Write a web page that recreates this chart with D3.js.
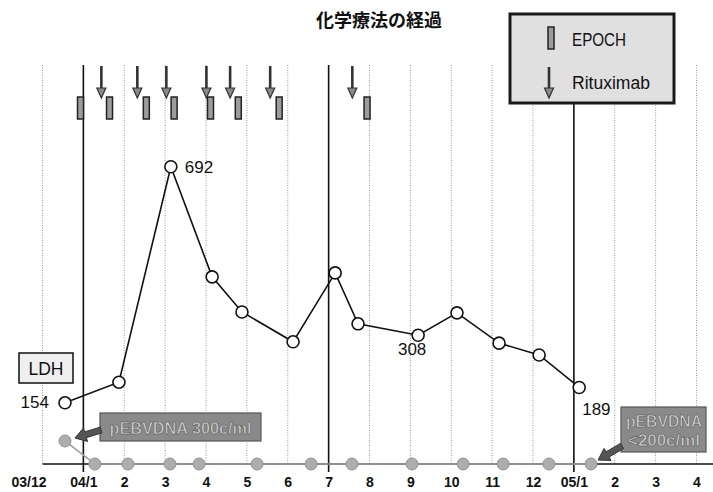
<!DOCTYPE html>
<html><head><meta charset="utf-8">
<script src="https://cdn.jsdelivr.net/npm/d3@7"></script>
<style>
html,body{margin:0;padding:0;background:#fff;}
svg{display:block;font-family:"Liberation Sans",Arial,sans-serif;}
</style></head>
<body>
<svg id="chart" width="713" height="492"></svg>
<script>
// ---- data ----
const title = "化学療法の経過";
const tickLabels = ["03/12","04/1","2","3","4","5","6","7","8","9","10","11","12","05/1","2","3","4"];
const solidTicks = [1, 7, 13];
const ldhWeeks  = [0.55, 1.87, 3.14, 4.15, 4.88, 6.13, 7.16, 7.72, 9.19, 10.14, 11.17, 12.15, 13.13];
const ldhValues = [154, 201, 692, 441, 361, 293, 450, 334, 308, 359, 290, 263, 189];
const ldhLabelled = [0, 2, 8, 12];
const ebvWeeks  = [0.55, 1.28, 2.09, 3.12, 3.83, 5.25, 6.57, 7.57, 9.04, 10.29, 11.27, 12.39, 13.42];
const ebvValues = [300, 0, 0, 0, 0, 0, 0, 0, 0, 0, 0, 0, 0];
const epochWeeks = [0.93, 1.64, 2.54, 3.22, 4.11, 4.79, 5.79, 7.94];
const rituxWeeks = [1.44, 2.32, 3.03, 4.01, 4.59, 5.57, 7.58];
const legendItems = ["EPOCH", "Rituximab"];
const ldhName = "LDH";
const ebvNotes = ["pEBVDNA 300c/ml", ["pEBVDNA", "<200c/ml"]];

// ---- layout ----
const svg = d3.select("#chart");
const W = 713, axisY = 464, gridTop = 65;
const x = d3.scaleLinear().domain([0, 16]).range([42.5, 696.5]);
const yL = d3.scaleLinear().domain([0, 700]).range([470.4, 163.2]);
const yE = d3.scaleLinear().domain([0, 300]).range([axisY, 441]);

// grid lines
svg.append("g").selectAll("line").data(d3.range(tickLabels.length).filter(i => !solidTicks.includes(i)))
  .join("line")
  .attr("x1", d => x(d)).attr("x2", d => x(d))
  .attr("y1", gridTop).attr("y2", axisY)
  .attr("stroke", "#9a9a9a").attr("stroke-width", 1).attr("stroke-dasharray", "1,1.5");
svg.append("g").selectAll("line").data(solidTicks).join("line")
  .attr("x1", d => x(d)).attr("x2", d => x(d))
  .attr("y1", gridTop).attr("y2", axisY + 8)
  .attr("stroke", "#111").attr("stroke-width", 1.6);

// x axis
const axis = d3.axisBottom(x).tickValues(d3.range(tickLabels.length))
  .tickFormat(i => tickLabels[i]).tickSize(0).tickPadding(13);
const gAx = svg.append("g").attr("transform", `translate(0,${axisY})`).call(axis);
gAx.select(".domain").remove();
gAx.selectAll("text").attr("font-family", "'Liberation Sans',Arial,sans-serif")
  .attr("font-size", 14).attr("font-weight", "bold").attr("fill", "#111")
  .attr("dx", (d) => d === 0 ? -14 : 0);
svg.append("line").attr("x1", x(0)).attr("x2", W).attr("y1", axisY).attr("y2", axisY)
  .attr("stroke", "#111").attr("stroke-width", 1.5);

// pEBV series
svg.append("path").datum(ebvWeeks.map((w, i) => [w, ebvValues[i]]))
  .attr("d", d3.line().x(d => x(d[0])).y(d => yE(d[1])))
  .attr("fill", "none").attr("stroke", "#a5a5a5").attr("stroke-width", 1.6);
svg.append("g").selectAll("circle").data(ebvWeeks).join("circle")
  .attr("cx", d => x(d)).attr("cy", (d, i) => yE(ebvValues[i])).attr("r", 6)
  .attr("fill", "#adadad").attr("stroke", "#939393").attr("stroke-width", 1);

// LDH series
svg.append("path").datum(ldhWeeks.map((w, i) => [w, ldhValues[i]]))
  .attr("d", d3.line().x(d => x(d[0])).y(d => yL(d[1])))
  .attr("fill", "none").attr("stroke", "#111").attr("stroke-width", 1.6);
svg.append("g").selectAll("circle").data(ldhWeeks).join("circle")
  .attr("cx", d => x(d)).attr("cy", (d, i) => yL(ldhValues[i])).attr("r", 6)
  .attr("fill", "#fff").attr("stroke", "#111").attr("stroke-width", 1.6);

// value labels
const labelOffsets = {0: [-16, 5, "end"], 2: [14, 6, "start"], 8: [-6, 20, "middle"], 12: [3, 28, "start"]};
svg.append("g").selectAll("text").data(ldhLabelled).join("text")
  .attr("x", i => x(ldhWeeks[i]) + labelOffsets[i][0])
  .attr("y", i => yL(ldhValues[i]) + labelOffsets[i][1])
  .attr("text-anchor", i => labelOffsets[i][2])
  .attr("font-size", 17).attr("fill", "#111")
  .text(i => ldhValues[i]);

// LDH label box
svg.append("rect").attr("x", 19).attr("y", 353).attr("width", 54).attr("height", 30)
  .attr("fill", "#efefef").attr("stroke", "#111").attr("stroke-width", 1.5);
svg.append("text").attr("x", 46).attr("y", 375).attr("text-anchor", "middle")
  .attr("font-size", 17.5).attr("fill", "#111").text(ldhName);

// treatment marks
function epochBar(g, cx, y0) {
  g.append("rect").attr("x", cx - 3).attr("y", y0).attr("width", 6).attr("height", 22)
    .attr("fill", "#9c9c9c").attr("stroke", "#222").attr("stroke-width", 1.5);
}
function rituxArrow(g, cx, y0, y1) {
  g.append("line").attr("x1", cx).attr("x2", cx).attr("y1", y0).attr("y2", y1 - 9)
    .attr("stroke", "#333").attr("stroke-width", 2.6);
  g.append("path").attr("d", `M${cx - 4.5},${y1 - 10}L${cx + 4.5},${y1 - 10}L${cx},${y1}Z`)
    .attr("fill", "#8a8a8a").attr("stroke", "#333").attr("stroke-width", 1.2);
}
const gT = svg.append("g");
epochWeeks.forEach(w => epochBar(gT, x(w), 97));
rituxWeeks.forEach(w => rituxArrow(gT, x(w), 66, 98));

// legend
const gL = svg.append("g");
gL.append("rect").attr("x", 510).attr("y", 14).attr("width", 164).attr("height", 89)
  .attr("fill", "#e0e0e0").attr("stroke", "#1a1a1a").attr("stroke-width", 3);
epochBar(gL, 551, 27);
rituxArrow(gL, 549, 67, 98);
gL.append("text").attr("x", 572).attr("y", 46).attr("font-size", 17.5).attr("fill", "#111")
  .attr("textLength", 54).attr("lengthAdjust", "spacingAndGlyphs").text(legendItems[0]);
gL.append("text").attr("x", 572).attr("y", 89).attr("font-size", 17.5).attr("fill", "#111")
  .attr("textLength", 78).attr("lengthAdjust", "spacingAndGlyphs").text(legendItems[1]);

// title
svg.append("text").attr("x", 379).attr("y", 27).attr("text-anchor", "middle")
  .attr("font-family", "'Noto Sans CJK JP',sans-serif").attr("font-weight", "bold")
  .attr("font-size", 18).attr("fill", "#111").text(title);

// pEBV note boxes with block arrows
function blockArrow(g, sx, sy, tx, ty) {
  const dx = tx - sx, dy = ty - sy, L = Math.hypot(dx, dy);
  const ux = dx / L, uy = dy / L, nx = -uy, ny = ux;
  const hl = 11, hw = 7, sw = 3;
  const bx = tx - ux * hl, by = ty - uy * hl;
  const pts = [
    [sx + nx * sw, sy + ny * sw], [bx + nx * sw, by + ny * sw], [bx + nx * hw, by + ny * hw],
    [tx, ty], [bx - nx * hw, by - ny * hw], [bx - nx * sw, by - ny * sw], [sx - nx * sw, sy - ny * sw]
  ];
  g.append("path").attr("d", "M" + pts.map(p => p.join(",")).join("L") + "Z")
    .attr("fill", "#555").attr("stroke", "#333").attr("stroke-width", 1);
}
const gN = svg.append("g");
gN.append("rect").attr("x", 100).attr("y", 413).attr("width", 161).attr("height", 28)
  .attr("fill", "#8a8a8a").attr("stroke", "#555").attr("stroke-width", 1.2);
gN.append("text").attr("x", 180.5).attr("y", 434).attr("text-anchor", "middle")
  .attr("font-size", 16).attr("font-weight", "bold").attr("fill", "#cfcfcf")
  .attr("stroke", "#4a4a4a").attr("stroke-width", 0.5)
  .attr("textLength", 142).attr("lengthAdjust", "spacingAndGlyphs")
  .text(ebvNotes[0]);
blockArrow(gN, 101, 430, x(ebvWeeks[0]) + 10, 438);

gN.append("rect").attr("x", 621).attr("y", 407).attr("width", 85).attr("height", 45)
  .attr("fill", "#8a8a8a").attr("stroke", "#555").attr("stroke-width", 1.2);
ebvNotes[1].forEach((t, k) => {
  gN.append("text").attr("x", 664).attr("y", 427 + k * 19).attr("text-anchor", "middle")
    .attr("font-size", 16).attr("font-weight", "bold").attr("fill", "#cfcfcf")
    .attr("stroke", "#4a4a4a").attr("stroke-width", 0.5)
    .attr("textLength", k === 0 ? 76 : 72).attr("lengthAdjust", "spacingAndGlyphs")
    .text(t);
});
blockArrow(gN, 622, 446, x(ebvWeeks[ebvWeeks.length - 1]) + 7, 460);
</script>
</body></html>
